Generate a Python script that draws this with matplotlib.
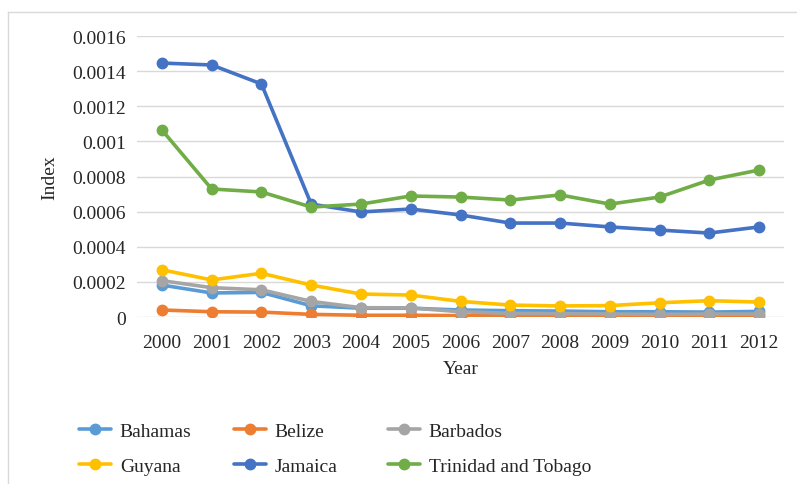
import matplotlib
matplotlib.use("Agg")
import matplotlib.pyplot as plt
from matplotlib.lines import Line2D

plt.rcParams['font.family'] = ['Liberation Serif', 'DejaVu Serif']

years = ["2000", "2001", "2002", "2003", "2004", "2005", "2006",
         "2007", "2008", "2009", "2010", "2011", "2012"]

bahamas = [0.000182, 0.000137, 0.000140, 0.000064, 0.000050, 0.000050, 0.000040,
           0.000036, 0.000034, 0.000030, 0.000030, 0.000028, 0.000032]
belize = [0.000040, 0.000030, 0.000028, 0.000015, 0.000010, 0.000010, 0.000008,
          0.000006, 0.000005, 0.000005, 0.000005, 0.000006, 0.000008]
barbados = [0.000207, 0.000167, 0.000155, 0.000089, 0.000053, 0.000052, 0.000030,
            0.000021, 0.000019, 0.000017, 0.000015, 0.000017, 0.000017]
guyana = [0.000269, 0.000211, 0.000249, 0.000182, 0.000131, 0.000125, 0.000089,
          0.000068, 0.000063, 0.000065, 0.000081, 0.000093, 0.000085]
jamaica = [0.001446, 0.001435, 0.001327, 0.000643, 0.000598, 0.000615, 0.000581,
           0.000535, 0.000535, 0.000513, 0.000495, 0.000478, 0.000513]
trinidad = [0.001065, 0.000729, 0.000712, 0.000626, 0.000643, 0.000689, 0.000683,
            0.000666, 0.000695, 0.000643, 0.000683, 0.000780, 0.000837]

series = [
    ("Bahamas", bahamas, "#5B9BD5"),
    ("Belize", belize, "#ED7D31"),
    ("Barbados", barbados, "#A5A5A5"),
    ("Guyana", guyana, "#FFC000"),
    ("Jamaica", jamaica, "#4472C4"),
    ("Trinidad and Tobago", trinidad, "#70AD47"),
]

yticks = [0, 0.0002, 0.0004, 0.0006, 0.0008, 0.001, 0.0012, 0.0014, 0.0016]
ytick_labels = ["0", "0.0002", "0.0004", "0.0006", "0.0008", "0.001",
                "0.0012", "0.0014", "0.0016"]

text_color = "#262626"
fs = 14

fig = plt.figure(figsize=(7.97, 4.85), dpi=100)
ax = fig.add_axes([0.1719, 0.3443, 0.8118, 0.5794])

x = list(range(len(years)))
handles = []
for name, vals, color in series:
    h, = ax.plot(x, vals, color=color, lw=2.6, marker="o", markersize=7.5,
                 label=name, solid_capstyle="round", zorder=3)
    handles.append(h)

ax.set_xlim(-0.5, len(years) - 0.5)
ax.set_ylim(0, 0.0016)
ax.set_yticks(yticks)
ax.set_yticklabels(ytick_labels)
ax.set_xticks(x)
ax.set_xticklabels(years)
ax.tick_params(length=0, labelsize=fs, colors=text_color)
ax.tick_params(axis="x", pad=12)
ax.tick_params(axis="y", pad=8)
ax.grid(axis="y", color="#D9D9D9", lw=1.0)
ax.set_axisbelow(True)
for s in ax.spines.values():
    s.set_visible(False)

ax.set_xlabel("Year", fontsize=fs, color=text_color, labelpad=7)
ax.set_ylabel("Index", fontsize=fs, color=text_color, labelpad=10)

# legend: three columns, two rows each
cols = [(0.0991, [handles[0], handles[3]]),
        (0.2936, [handles[1], handles[4]]),
        (0.4868, [handles[2], handles[5]])]
for xpos, hs in cols:
    leg = fig.legend(handles=hs, labels=[h.get_label() for h in hs],
                     loc="center left", bbox_to_anchor=(xpos, 0.0735),
                     frameon=False, fontsize=fs, handlelength=1.65,
                     handletextpad=0.45, borderpad=0, borderaxespad=0,
                     labelspacing=0.89)
    for t in leg.get_texts():
        t.set_color(text_color)

# outer chart border
fig.add_artist(Line2D([0.0100, 0.0100], [0.0, 0.9732], color="#D9D9D9",
                      lw=1.0, transform=fig.transFigure))
fig.add_artist(Line2D([0.0100, 1.0], [0.9732, 0.9732], color="#D9D9D9",
                      lw=1.0, transform=fig.transFigure))

fig.savefig("out.png", dpi=100)
